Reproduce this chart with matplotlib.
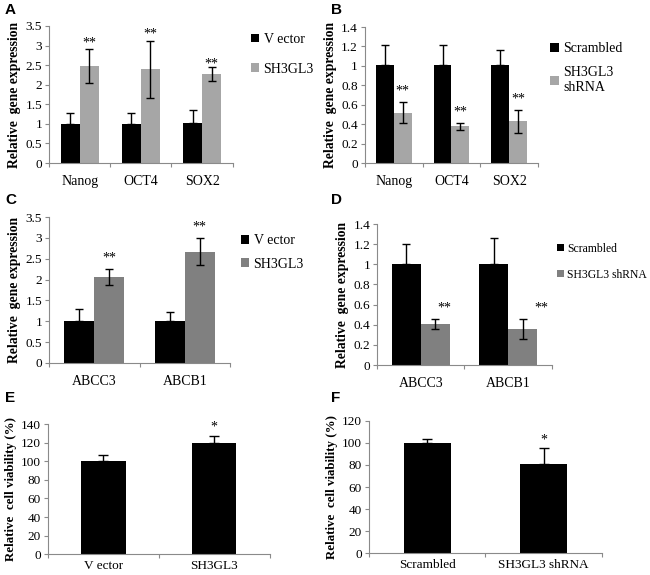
import numpy as np
import matplotlib.pyplot as plt

plt.rcParams['font.family'] = 'Liberation Serif'

# Panel A
a_genes = ['Nanog', 'OCT4', 'SOX2']
a_vector = [1.0, 1.0, 1.03]
a_vector_err = [0.27, 0.27, 0.32]
a_sh3gl3 = [2.48, 2.39, 2.27]
a_sh3gl3_err = [0.44, 0.72, 0.18]

# Panel B
b_genes = ['Nanog', 'OCT4', 'SOX2']
b_scr = [1.01, 1.01, 1.01]
b_scr_err = [0.2, 0.21, 0.15]
b_sh = [0.52, 0.38, 0.43]
b_sh_err = [0.11, 0.035, 0.12]

# Panel C
c_genes = ['ABCC3', 'ABCB1']
c_vector = [1.01, 1.01]
c_vector_err = [0.29, 0.22]
c_sh3gl3 = [2.06, 2.67]
c_sh3gl3_err = [0.2, 0.33]

# Panel D
d_genes = ['ABCC3', 'ABCB1']
d_scr = [1.0, 1.0]
d_scr_err = [0.2, 0.26]
d_sh = [0.41, 0.36]
d_sh_err = [0.05, 0.1]

# Panels E, F
e_groups = ['V ector', 'SH3GL3']
e_vals = [100, 120]
e_err = [7, 7]
f_groups = ['Scrambled', 'SH3GL3 shRNA']
f_vals = [100, 81]
f_err = [4, 14]

AXIS_GRAY = '#8a8a8a'
LIGHT = '#a6a6a6'
MID = '#808080'

fig = plt.figure(figsize=(6.5, 5.75), dpi=100)


def style_axes(ax, n, ymax, ystep, fmt):
    for s in ['top', 'right']:
        ax.spines[s].set_visible(False)
    for s in ['left', 'bottom']:
        ax.spines[s].set_color(AXIS_GRAY)
        ax.spines[s].set_linewidth(0.8)
    ax.set_xlim(-0.5, n - 0.5)
    ax.set_ylim(0, ymax)
    ticks = np.arange(0, ymax + ystep / 2, ystep)
    ax.set_yticks(ticks)
    ax.set_yticklabels([fmt(t) for t in ticks], fontsize=9.5)
    # category boundary ticks on x axis
    ax.set_xticks(np.arange(-0.5, n, 1.0))
    ax.set_xticklabels([])
    ax.tick_params(axis='both', direction='out', color=AXIS_GRAY, length=3, width=0.8)
    ax.tick_params(axis='y', pad=2)


def num_fmt(t):
    return ('%.1f' % t).rstrip('0').rstrip('.')


def grouped(rect, genes, s1, e1, s2, e2, c2, ymax, ystep, labels, stars,
            star_dx=(0, 0, 0), legend_pos=(1.05, 0.95), leg_spacing=1.2,
            width=0.31, leg_fs=10):
    ax = fig.add_axes(rect)
    x = np.arange(len(genes))
    ax.bar(x - width / 2, s1, width, color='black', zorder=2, label=labels[0])
    ax.errorbar(x - width / 2, s1, yerr=[np.zeros(len(e1)), e1], fmt='none',
                ecolor='black', elinewidth=1, capsize=3, capthick=1, zorder=3)
    ax.bar(x + width / 2, s2, width, color=c2, zorder=2, label=labels[1])
    ax.errorbar(x + width / 2, s2, yerr=e2, fmt='none',
                ecolor='black', elinewidth=1, capsize=3, capthick=1, zorder=3)
    style_axes(ax, len(genes), ymax, ystep, num_fmt)
    for i, g in enumerate(genes):
        ax.text(i, -ymax * 0.085, g, ha='center', va='top', fontsize=10)
    for i, sy in enumerate(stars):
        ax.text(i + width / 2 + star_dx[i], sy, '**', ha='center', va='center', fontsize=10)
    ax.set_ylabel('Relative  gene expression', fontsize=9.8, fontweight='bold', labelpad=3)
    ax.legend(loc='upper left', bbox_to_anchor=legend_pos, frameon=False, fontsize=leg_fs,
              handlelength=0.6, handleheight=0.6, handletextpad=0.3,
              labelspacing=leg_spacing, borderaxespad=0)
    return ax


# A
grouped([0.0754, 0.7165, 0.2826, 0.2383], a_genes, a_vector, a_vector_err,
        a_sh3gl3, a_sh3gl3_err, LIGHT, 3.5, 0.5, ['V ector', 'SH3GL3'],
        [3.07, 3.3, 2.52], legend_pos=(1.07, 0.99), leg_spacing=1.2)

# B
grouped([0.5615, 0.7165, 0.2662, 0.2365], b_genes, b_scr, b_scr_err,
        b_sh, b_sh_err, LIGHT, 1.4, 0.2, ['Scrambled', 'SH3GL3\nshRNA'],
        [0.74, 0.525, 0.66], legend_pos=(1.04, 0.93), leg_spacing=0.8)

# C
grouped([0.0754, 0.3687, 0.2786, 0.2539], c_genes, c_vector, c_vector_err,
        c_sh3gl3, c_sh3gl3_err, MID, 3.5, 0.5, ['V ector', 'SH3GL3'],
        [2.52, 3.26], legend_pos=(1.03, 0.92), leg_spacing=0.75, width=0.33)

# D
grouped([0.58, 0.3652, 0.269, 0.2452], d_genes, d_scr, d_scr_err,
        d_sh, d_sh_err, MID, 1.4, 0.2, ['Scrambled', 'SH3GL3 shRNA'],
        [0.57, 0.57], star_dx=(0.1, 0.22), legend_pos=(1.0, 0.9),
        leg_spacing=1.2, width=0.33, leg_fs=8.4)


def single(rect, groups, vals, errs, ymax, star_y):
    ax = fig.add_axes(rect)
    x = np.arange(len(groups))
    ax.bar(x, vals, 0.4, color='black', zorder=2)
    ax.errorbar(x, vals, yerr=[np.zeros(len(errs)), errs], fmt='none',
                ecolor='black', elinewidth=1, capsize=3.5, capthick=1, zorder=3)
    style_axes(ax, len(groups), ymax, 20, lambda t: '%d' % t)
    for i, g in enumerate(groups):
        ax.text(i, -ymax * 0.045, g, ha='center', va='top', fontsize=9.5)
    ax.text(1, star_y, '*', ha='center', va='center', fontsize=10)
    ax.set_ylabel('Relative  cell viability (%)', fontsize=9.3, fontweight='bold', labelpad=3)
    return ax


single([0.0738, 0.036, 0.3412, 0.2266], e_groups, e_vals, e_err, 140, 137)
single([0.5677, 0.038, 0.3583, 0.23], f_groups, f_vals, f_err, 120, 103)

for lbl, (px, py) in zip('ABCDEF', [(5, 10), (331, 10), (5, 200), (331, 200), (5, 398), (331, 398)]):
    fig.text(px / 650, 1 - py / 575, lbl, fontsize=11, fontweight='bold',
             family='Liberation Sans', ha='left', va='center')

fig.savefig('out.png', dpi=100)
